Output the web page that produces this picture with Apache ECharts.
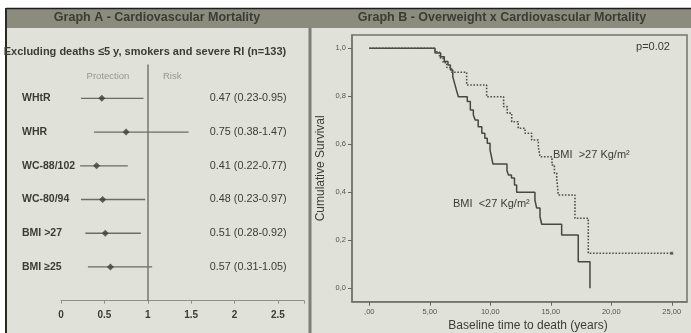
<!DOCTYPE html>
<html>
<head>
<meta charset="utf-8">
<script src="https://cdn.jsdelivr.net/npm/echarts@6/dist/echarts.min.js"></script>
<style>
  html, body { margin: 0; padding: 0; background: #ffffff; }
  #chart { width: 691px; height: 333px; }
</style>
</head>
<body>
<div id="chart"></div>
<script>
// Graph A - forest plot (hazard ratios)
const rowLabels = ['WHtR', 'WHR', 'WC-88/102', 'WC-80/94', 'BMI >27', 'BMI \u226525'];
const hrValues = [0.47, 0.75, 0.41, 0.48, 0.51, 0.57];
const ciLow = [0.23, 0.38, 0.22, 0.23, 0.28, 0.31];
const ciHigh = [0.95, 1.47, 0.77, 0.97, 0.92, 1.05];

// Graph B - Kaplan-Meier curves [years, cumulative survival]
const bmiLow = [
    [0, 1.0], [5.43, 0.98], [5.9, 0.965], [6.2, 0.945], [6.5, 0.93], [6.7, 0.91], [6.9, 0.882],
    [7.05, 0.854], [7.2, 0.826], [7.36, 0.798], [8.1, 0.778], [8.35, 0.743], [8.6, 0.722],
    [8.75, 0.701], [9.0, 0.673], [9.3, 0.646], [9.55, 0.625], [9.75, 0.604], [9.98, 0.576],
    [10.1, 0.548], [10.22, 0.518], [11.38, 0.49], [11.5, 0.472], [11.75, 0.46], [12.0, 0.43],
    [12.18, 0.40], [13.69, 0.368], [13.83, 0.335], [14.11, 0.298], [14.25, 0.267],
    [15.9, 0.222], [17.27, 0.111], [18.24, 0]
];
const bmiHigh = [
    [0, 1.0], [5.43, 0.985], [5.8, 0.96], [6.1, 0.94], [6.4, 0.92], [6.81, 0.90], [8.05, 0.847],
    [9.7, 0.798], [11.1, 0.757], [11.4, 0.73], [11.77, 0.694], [12.31, 0.667], [12.87, 0.646],
    [13.42, 0.618], [13.97, 0.59], [14.11, 0.548], [15.1, 0.514], [15.3, 0.48], [15.49, 0.458],
    [15.62, 0.389], [17.0, 0.292], [18.1, 0.146], [25.0, 0.146]
];
const censoredHigh = [[25.0, 0.146]];
const yearTicks = [0, 5, 10, 15, 20, 25];
const survTicks = [0, 0.2, 0.4, 0.6, 0.8, 1.0];

const dark = '#3b3c34';
const myChart = echarts.init(document.getElementById('chart'));

const option = {
    backgroundColor: '#ffffff',
    animation: false,
    graphic: [
        { type: 'rect', shape: { x: 6, y: 8, width: 685, height: 325 }, style: { fill: '#e0e1d9' }, z: -10 },
        { type: 'rect', shape: { x: 6, y: 9, width: 685, height: 19 }, style: { fill: '#8b8c7e' }, z: -9 },
        { type: 'line', shape: { x1: 6, y1: 8.5, x2: 691, y2: 8.5 }, style: { stroke: '#1e1e1a', lineWidth: 1.5 }, z: -8 },
        { type: 'line', shape: { x1: 6, y1: 8, x2: 6, y2: 333 }, style: { stroke: '#2a2a25', lineWidth: 2 }, z: -8 },
        { type: 'line', shape: { x1: 310, y1: 28, x2: 310, y2: 333 }, style: { stroke: '#7e7f72', lineWidth: 3 }, z: -8 },
        { type: 'text', x: 157, y: 18, style: { text: 'Graph A - Cardiovascular Mortality', fill: dark, font: 'bold 12.5px "Liberation Sans", Arial', align: 'center', verticalAlign: 'middle' } },
        { type: 'text', x: 502, y: 18, style: { text: 'Graph B - Overweight x Cardiovascular Mortality', fill: dark, font: 'bold 12.5px "Liberation Sans", Arial', align: 'center', verticalAlign: 'middle' } },
        { type: 'text', x: 145, y: 52, style: { text: 'Excluding deaths \u22645 y, smokers and severe RI (n=133)', fill: dark, font: 'bold 11px "Liberation Sans", Arial', align: 'center', verticalAlign: 'middle' } },
        { type: 'text', x: 108, y: 76, style: { text: 'Protection', fill: '#96978d', font: '9.5px "Liberation Sans", Arial', align: 'center', verticalAlign: 'middle' } },
        { type: 'text', x: 163, y: 76, style: { text: 'Risk', fill: '#96978d', font: '9.5px "Liberation Sans", Arial', align: 'left', verticalAlign: 'middle' } },
        { type: 'text', x: 653, y: 47, style: { text: 'p=0.02', fill: dark, font: '11px "Liberation Sans", Arial', align: 'center', verticalAlign: 'middle' } },
        { type: 'text', x: 553, y: 155, style: { text: 'BMI  >27 Kg/m\u00b2', fill: dark, font: '11px "Liberation Sans", Arial', align: 'left', verticalAlign: 'middle' } },
        { type: 'text', x: 453, y: 204, style: { text: 'BMI  <27 Kg/m\u00b2', fill: dark, font: '11px "Liberation Sans", Arial', align: 'left', verticalAlign: 'middle' } },
        { type: 'text', x: 528, y: 326, style: { text: 'Baseline time to death (years)', fill: dark, font: '12px "Liberation Sans", Arial', align: 'center', verticalAlign: 'middle' } }
    ],
    grid: [
        { left: 61, top: 64.6, width: 243, height: 236.1 },
        { left: 352, top: 35, width: 335, height: 266.7, show: true, borderColor: '#74756a', borderWidth: 1.5, backgroundColor: 'transparent' }
    ],
    xAxis: [
        {
            gridIndex: 0, type: 'value', min: 0, max: 2.8, interval: 0.5,
            axisLine: { show: true, onZero: false, lineStyle: { color: '#8f9086', width: 1 } },
            axisTick: { show: true, length: 3, lineStyle: { color: '#8f9086' } },
            axisLabel: { color: dark, fontSize: 10, fontWeight: 'bold', margin: 10, fontFamily: 'Liberation Sans',
                formatter: v => v > 2.5 ? '' : String(v) },
            splitLine: { show: false }
        },
        {
            gridIndex: 1, type: 'value', min: -1.43, max: 26.26,
            axisLine: { show: true, onZero: false, lineStyle: { color: '#74756a', width: 1.5 } },
            axisTick: { show: true, length: 4, customValues: yearTicks, lineStyle: { color: '#666759' } },
            axisLabel: { color: '#55564c', fontSize: 7.5, margin: 6, fontFamily: 'Liberation Sans', customValues: yearTicks,
                formatter: v => v === 0 ? ',00' : v.toFixed(2).replace('.', ',') },
            splitLine: { show: false }
        }
    ],
    yAxis: [
        {
            gridIndex: 0, type: 'value', min: 0, max: 7, interval: 1, inverse: true,
            axisLine: { show: false }, axisTick: { show: false }, splitLine: { show: false },
            axisLabel: { color: dark, fontSize: 10.5, fontWeight: 'bold', align: 'left', margin: 39, fontFamily: 'Liberation Sans',
                formatter: v => rowLabels[v - 1] || '' }
        },
        {
            gridIndex: 1, type: 'value', min: -0.0558, max: 1.0554,
            axisLine: { show: true, onZero: false, lineStyle: { color: '#74756a', width: 1.5 } },
            axisTick: { show: true, length: 4, customValues: survTicks, lineStyle: { color: '#666759' } },
            axisLabel: { color: '#55564c', fontSize: 7.5, margin: 6, fontFamily: 'Liberation Sans', customValues: survTicks,
                formatter: v => v.toFixed(1).replace('.', ',') },
            splitLine: { show: false },
            name: 'Cumulative Survival', nameLocation: 'middle', nameGap: 25, nameRotate: 90,
            nameTextStyle: { color: dark, fontSize: 12, fontFamily: 'Liberation Sans' }
        }
    ],
    series: [
        {
            name: 'CI', type: 'custom', xAxisIndex: 0, yAxisIndex: 0,
            data: rowLabels.map((r, i) => [ciLow[i], ciHigh[i], i + 1]),
            encode: { x: [0, 1], y: 2 },
            renderItem: (params, api) => {
                const p1 = api.coord([api.value(0), api.value(2)]);
                const p2 = api.coord([api.value(1), api.value(2)]);
                return {
                    type: 'line',
                    shape: { x1: p1[0], y1: p1[1], x2: p2[0], y2: p2[1] },
                    style: { stroke: '#6c6d62', lineWidth: 1.3 }
                };
            }
        },
        {
            name: 'HR', type: 'scatter', xAxisIndex: 0, yAxisIndex: 0,
            data: hrValues.map((v, i) => [v, i + 1]),
            symbol: 'diamond', symbolSize: 7,
            itemStyle: { color: '#3c3d35' },
            markLine: {
                symbol: 'none', silent: true, label: { show: false },
                lineStyle: { color: '#77786d', width: 1.5, type: 'solid' },
                data: [{ xAxis: 1 }]
            }
        },
        {
            name: 'HR text', type: 'custom', xAxisIndex: 0, yAxisIndex: 0,
            data: hrValues.map((v, i) => [v, i + 1]),
            renderItem: (params, api) => {
                const i = params.dataIndex;
                const p = api.coord([2.6, api.value(1)]);
                return {
                    type: 'text', x: p[0], y: p[1],
                    style: {
                        text: hrValues[i].toFixed(2) + ' (' + ciLow[i].toFixed(2) + '-' + ciHigh[i].toFixed(2) + ')',
                        fill: dark, font: '10.8px "Liberation Sans", Arial', align: 'right', verticalAlign: 'middle'
                    }
                };
            }
        },
        {
            name: 'BMI <27', type: 'line', xAxisIndex: 1, yAxisIndex: 1,
            data: bmiLow, step: 'end', showSymbol: false,
            lineStyle: { color: '#47483f', width: 1.5 }
        },
        {
            name: 'BMI >27', type: 'line', xAxisIndex: 1, yAxisIndex: 1,
            data: bmiHigh, step: 'end', showSymbol: false,
            lineStyle: { color: '#505148', width: 1.6, type: 'dotted' }
        },
        {
            name: 'censored', type: 'scatter', xAxisIndex: 1, yAxisIndex: 1,
            data: censoredHigh, symbol: 'rect', symbolSize: 3,
            itemStyle: { color: '#47483f' }
        }
    ]
};

window.onresize = () => {
    myChart.resize();
};
myChart.setOption(option);
</script>
</body>
</html>
